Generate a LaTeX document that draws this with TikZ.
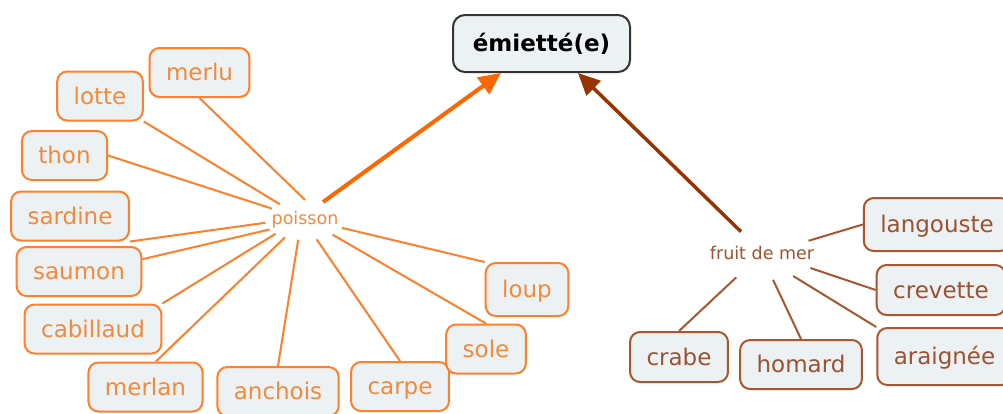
\documentclass[tikz,border=0pt]{standalone}
\usepackage{fontspec}
\setmainfont{DejaVu Sans}
\usepackage{tikz}
\usetikzlibrary{arrows.meta, shapes.geometric}
\definecolor{BoxFill}{HTML}{ECF2F4}
\definecolor{FishOrange}{HTML}{FF7F2A}
\definecolor{FishText}{HTML}{F28A3C}
\definecolor{ArrowOrange}{HTML}{FF6600}
\definecolor{SeaBrown}{HTML}{A9562E}
\definecolor{SeaText}{HTML}{9C5230}
\definecolor{ArrowBrown}{HTML}{993300}
\definecolor{DarkEdge}{HTML}{333333}

\begin{document}
\begin{tikzpicture}[x=1pt, y=-1pt,
    concept/.style={rectangle, rounded corners=10pt, fill=BoxFill, line width=2pt, inner xsep=16.5pt, inner ysep=0pt,
        minimum height=49pt, text height=19pt, text depth=3pt, font=\fontsize{23}{27}\selectfont},
    fish/.style={concept, draw=FishOrange, text=FishText},
    sea/.style={concept, draw=SeaBrown, text=SeaText},
    linking/.style={ellipse, text height=13pt, text depth=4pt, font=\fontsize{17.5}{20}\selectfont},
    fishlink/.style={FishOrange, line width=2pt},
    sealink/.style={SeaBrown, line width=2pt}]
    \useasboundingbox (0,0) rectangle (1003,413);

    \node (emiette) [concept, draw=DarkEdge, text=black, minimum width=177pt, minimum height=57pt, rounded corners=12pt,
        font=\fontsize{23}{27}\selectfont\bfseries] at (541.5,43.5) {émietté(e)};

    % poisson side
    \node (poisson) [linking, text=FishText, inner xsep=-5.1pt, inner ysep=5.6pt] at (305,220) {poisson};
    \node (merlu) [fish] at (199.5,72.5) {merlu};
    \node (lotte) [fish] at (100,96) {lotte};
    \node (thon) [fish] at (64.5,155.5) {thon};
    \node (sardine) [fish] at (70,216) {sardine};
    \node (saumon) [fish] at (79,271.5) {saumon};
    \node (cabillaud) [fish] at (93,329) {cabillaud};
    \node (merlan) [fish] at (145.5,387) {merlan};
    \node (anchois) [fish] at (278,391.5) {anchois};
    \node (carpe) [fish] at (400,386.5) {carpe};
    \node (sole) [fish] at (486,349) {sole};
    \node (loup) [fish, minimum height=53pt] at (527,289.5) {loup};

    \draw[fishlink] (poisson.90) -- (merlu.south);
    \draw[fishlink] (poisson.148) -- (lotte.south east);
    \draw[fishlink] (poisson.161) -- (thon.east);
    \draw[fishlink] (poisson.184) -- (sardine.south east);
    \draw[fishlink] (poisson.195) -- (saumon.11);
    \draw[fishlink] (poisson.205) -- (cabillaud.north east);
    \draw[fishlink] (poisson.221) -- (merlan.68);
    \draw[fishlink] (poisson.251) -- (anchois.north);
    \draw[fishlink] (poisson.301) -- (carpe.north);
    \draw[fishlink] (poisson.332) -- (sole.north);
    \draw[fishlink] (poisson.348) -- (loup.north west);

    % fruit de mer side
    \node (fruit) [linking, text=SeaText, inner xsep=-12.4pt, inner ysep=9.2pt] at (762,255) {fruit de mer};
    \node (langouste) [sea, minimum height=53pt] at (937,224.5) {langouste};
    \node (crevette) [sea, minimum height=50pt] at (941,290) {crevette};
    \node (araignee) [sea, minimum height=57pt] at (944.5,356.5) {araignée};
    \node (crabe) [sea, minimum height=50pt] at (679,357) {crabe};
    \node (homard) [sea] at (801,364.5) {homard};

    \draw[sealink] (fruit.17) -- (langouste.west);
    \draw[sealink] (fruit.345) -- (crevette.west);
    \draw[sealink] (fruit.326) -- (araignee.north west);
    \draw[sealink] (fruit.294) -- (homard.north);
    \draw[sealink] (fruit.221) -- (crabe.north);

    \draw[ArrowOrange, line width=4pt, -{Triangle[length=22pt, width=20pt]}] (poisson.45) -- (emiette.216);
    \draw[ArrowBrown, line width=3.5pt, -{Triangle[length=22pt, width=20pt]}] (fruit.132) -- (emiette.321);
\end{tikzpicture}
\end{document}
